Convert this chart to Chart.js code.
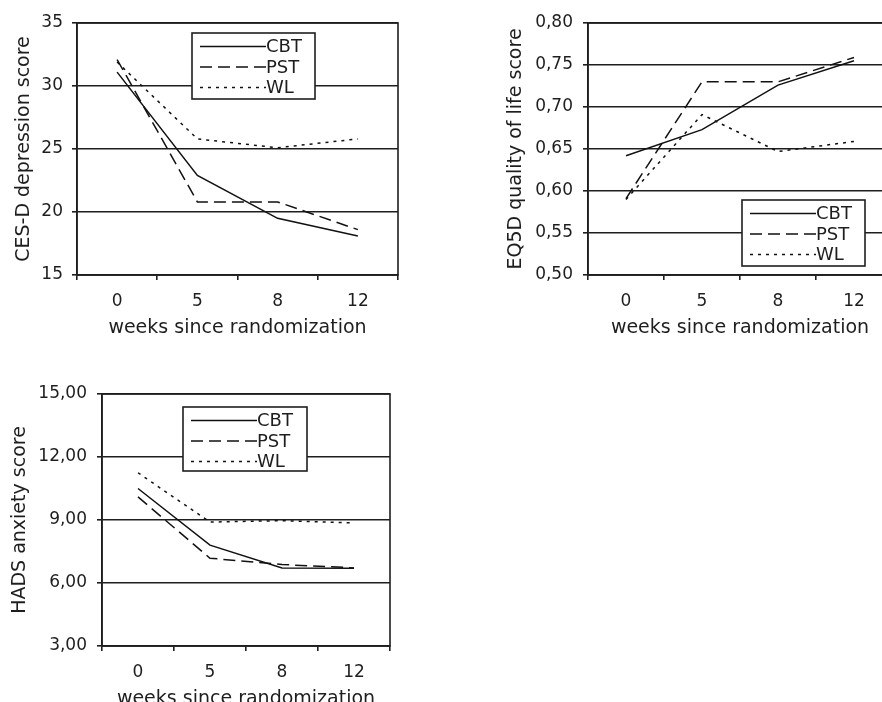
<!DOCTYPE html>
<html>
<head>
<meta charset="utf-8">
<script src="https://cdn.jsdelivr.net/npm/chart.js@4/dist/chart.umd.min.js"></script>
<style>
  html, body { margin: 0; padding: 0; background: #fff; overflow: hidden; }
  body { width: 882px; height: 702px; position: relative; }
  .box { position: absolute; width: 400px; height: 345px; }
  #b1 { left: 0; top: 0; }
  #b2 { left: 480px; top: 0; width: 420px; }
  #b3 { left: 0; top: 371px; }
</style>
</head>
<body>
<div class="box" id="b1"><canvas id="c1"></canvas></div>
<div class="box" id="b2"><canvas id="c2"></canvas></div>
<div class="box" id="b3"><canvas id="c3"></canvas></div>
<script>
// weeks since randomization
const weeks = ['0', '5', '8', '12'];
const groups = ['CBT', 'PST', 'WL'];

// CES-D depression score
const cesdCBT = [31.1, 22.9, 19.5, 18.1];
const cesdPST = [32.1, 20.8, 20.8, 18.6];
const cesdWL  = [31.9, 25.8, 25.1, 25.8];
const cesdTicks = [15, 20, 25, 30, 35];

// EQ5D quality of life score
const eq5dCBT = [0.642, 0.673, 0.726, 0.755];
const eq5dPST = [0.591, 0.730, 0.730, 0.759];
const eq5dWL  = [0.590, 0.691, 0.647, 0.659];
const eq5dTicks = [0.50, 0.55, 0.60, 0.65, 0.70, 0.75, 0.80];

// HADS anxiety score
const hadsCBT = [10.5, 7.8, 6.72, 6.70];
const hadsPST = [10.1, 7.18, 6.88, 6.72];
const hadsWL  = [11.25, 8.9, 8.97, 8.86];
const hadsTicks = [3, 6, 9, 12, 15];

const dashes = { CBT: [], PST: [12, 6], WL: [3, 5] };
const ink = '#1e1e1e';

Chart.defaults.font.family = '"DejaVu Sans", Verdana, sans-serif';
Chart.defaults.font.size = 17;
Chart.defaults.color = ink;

// plot frame + legend box drawn inside the plot area
const boxLegend = {
  id: 'boxLegend',
  afterDatasetsDraw(chart, args, opts) {
    const { ctx, chartArea: a } = chart;
    ctx.save();
    ctx.strokeStyle = ink;
    ctx.lineWidth = 1.6;
    ctx.strokeRect(a.left, a.top, a.right - a.left, a.bottom - a.top);
    const x = a.left + opts.left, y = a.top + opts.top;
    ctx.fillStyle = '#fff';
    ctx.fillRect(x, y, opts.width, opts.height);
    ctx.strokeRect(x, y, opts.width, opts.height);
    ctx.font = '18px "DejaVu Sans"';
    ctx.textBaseline = 'middle';
    chart.data.datasets.forEach((ds, i) => {
      const ry = y + 13.5 + i * 20.5;
      ctx.setLineDash(ds.borderDash);
      ctx.lineWidth = 1.5;
      ctx.strokeStyle = ds.borderColor;
      ctx.beginPath();
      ctx.moveTo(x + 8, ry);
      ctx.lineTo(x + 74, ry);
      ctx.stroke();
      ctx.setLineDash([]);
      ctx.fillStyle = ink;
      ctx.fillText(ds.label, x + 74, ry + 1);
    });
    ctx.restore();
  }
};

function makeChart(id, series, ticks, fmt, yTitle, cfg) {
  return new Chart(document.getElementById(id), {
    type: 'line',
    data: {
      labels: weeks,
      datasets: groups.map((g, i) => ({
        label: g,
        data: series[i],
        borderColor: '#111',
        borderWidth: 1.5,
        borderDash: dashes[g],
        pointRadius: 0,
        tension: 0,
        fill: false
      }))
    },
    options: {
      responsive: true,
      maintainAspectRatio: false,
      animation: false,
      layout: { padding: { top: 23, right: cfg.padRight, bottom: 0, left: 0 } },
      plugins: {
        legend: { display: false },
        tooltip: { enabled: false },
        boxLegend: cfg.legend
      },
      scales: {
        x: {
          offset: true,
          grid: { offset: true, drawOnChartArea: false, tickLength: 5, color: ink, lineWidth: 1.6 },
          border: { color: ink, width: 1.6 },
          ticks: { padding: 11 },
          title: { display: true, text: 'weeks since randomization', font: { size: 19 }, padding: { top: 0, bottom: 6 } },
          afterFit: s => { s.height = 70; }
        },
        y: {
          min: ticks[0],
          max: ticks[ticks.length - 1],
          afterBuildTicks: s => { s.ticks = ticks.map(v => ({ value: v })); },
          grid: { tickLength: 5, color: ink, lineWidth: 1.6 },
          border: { color: ink, width: 1.6 },
          ticks: { padding: cfg.tickPad, callback: v => fmt(v) },
          title: { display: true, text: yTitle, font: { size: 19 }, padding: { top: cfg.titlePad, bottom: 0 } },
          afterFit: s => { s.width = cfg.axisWidth; }
        }
      }
    },
    plugins: [boxLegend]
  });
}

const plain = v => String(v);
const comma = v => v.toFixed(2).replace('.', ',');

makeChart('c1', [cesdCBT, cesdPST, cesdWL], cesdTicks, plain, 'CES-D depression score',
  { axisWidth: 77, padRight: 2, tickPad: 9, titlePad: 13, legend: { left: 115, top: 10, width: 123, height: 66 } });
makeChart('c2', [eq5dCBT, eq5dPST, eq5dWL], eq5dTicks, comma, 'EQ5D quality of life score',
  { axisWidth: 108, padRight: 8, tickPad: 10, titlePad: 25, legend: { left: 154, top: 177, width: 123, height: 66 } });
makeChart('c3', [hadsCBT, hadsPST, hadsWL], hadsTicks, comma, 'HADS anxiety score',
  { axisWidth: 102, padRight: 10, tickPad: 10, titlePad: 9, legend: { left: 81, top: 13, width: 124, height: 64 } });
</script>
</body>
</html>
